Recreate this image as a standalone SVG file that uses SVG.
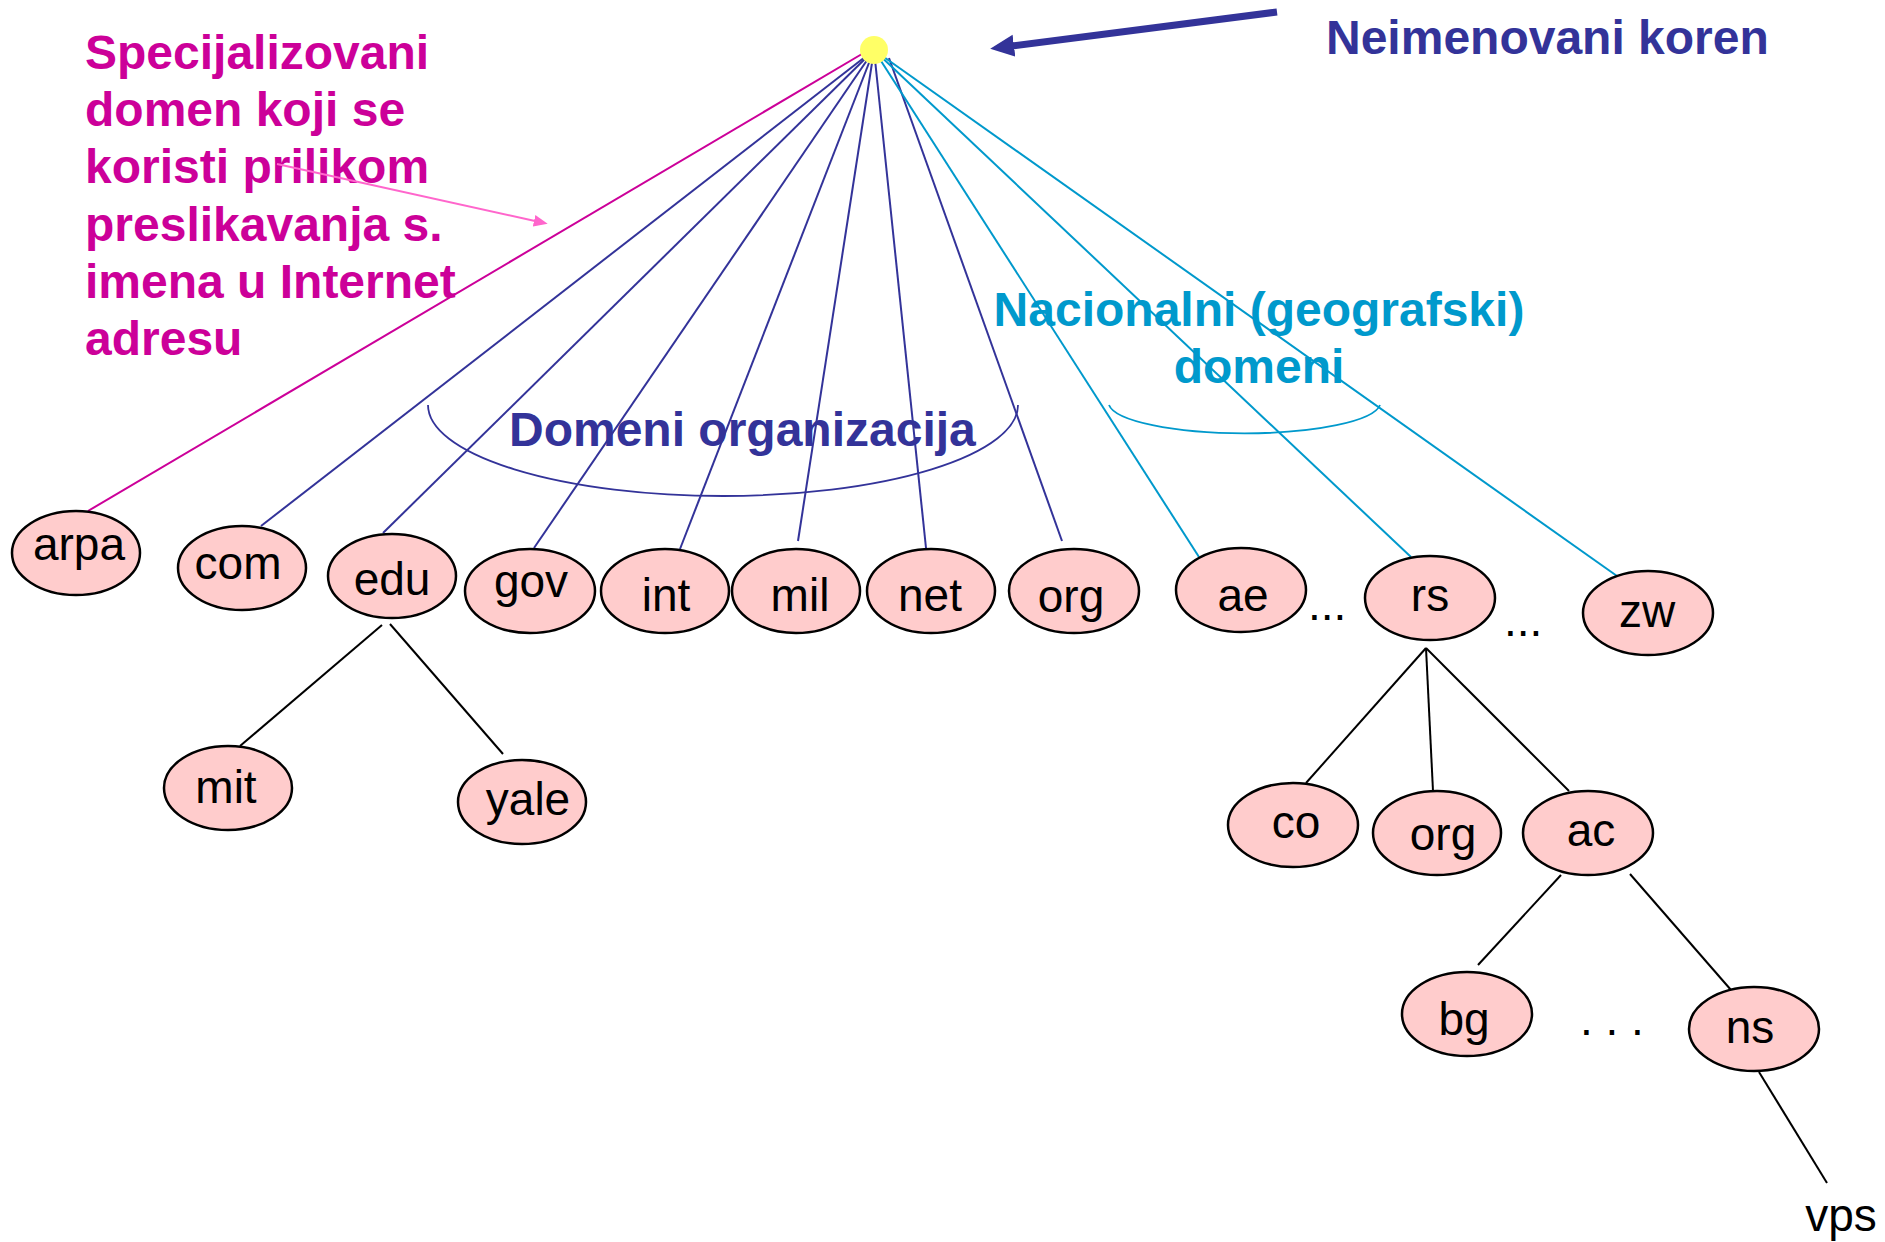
<svg xmlns="http://www.w3.org/2000/svg" width="1885" height="1242" viewBox="0 0 1885 1242">
  <style>
    .node ellipse { fill: #FFCCCC; stroke: #000; stroke-width: 2.5; }
    .node text { font-family: "Liberation Sans", Arial, sans-serif; font-size: 46px; fill: #000; text-anchor: middle; }
    .dots { font-family: "Liberation Sans", Arial, sans-serif; font-size: 46px; fill: #000; }
    .lbl { font-family: "Liberation Sans", Arial, sans-serif; font-size: 48px; font-weight: bold; }
    .navy { stroke: #333399; }
    .cyan { stroke: #0099CC; }
    .mag { stroke: #CC0099; }
    .blk { stroke: #000; }
    #connectors line { stroke-width: 2; fill: none; }
    .brace { fill: none; stroke-width: 1.8; }
  </style>
  <defs>
    <marker id="headNavy" markerUnits="userSpaceOnUse" viewBox="0 -12 26 24" markerWidth="26" markerHeight="24" refX="2" refY="0" orient="auto">
      <path d="M0,-11 L24,0 L0,11 z" fill="#333399"/>
    </marker>
    <marker id="headPink" markerUnits="userSpaceOnUse" viewBox="0 -7 16 14" markerWidth="16" markerHeight="14" refX="1" refY="0" orient="auto">
      <path d="M0,-6 L14,0 L0,6 z" fill="#FF66CC"/>
    </marker>
  </defs>

  <rect width="1885" height="1242" fill="#fff"/>

  <!-- annotation texts -->
  <g id="label-special" class="lbl" fill="#CC0099">
    <text x="85" y="69">Specijalizovani</text>
    <text x="85" y="126">domen koji se</text>
    <text x="85" y="183">koristi prilikom</text>
    <text x="85" y="241">preslikavanja s.</text>
    <text x="85" y="298">imena u Internet</text>
    <text x="85" y="355">adresu</text>
  </g>
  <g id="label-root" class="lbl" fill="#333399">
    <text x="1326" y="54">Neimenovani koren</text>
  </g>
  <g id="label-org" class="lbl" fill="#333399">
    <text x="509" y="446">Domeni organizacija</text>
  </g>
  <g id="label-nat" class="lbl" fill="#0099CC" text-anchor="middle">
    <text x="1259" y="326">Nacionalni (geografski)</text>
    <text x="1259" y="383">domeni</text>
  </g>

  <!-- braces grouping the top-level domains -->
  <path class="brace navy" d="M428,405 A295,91 0 0 0 1018,405"/>
  <path class="brace cyan" d="M1109,405 A136,31 0 0 0 1380,405"/>

  <!-- callout arrows -->
  <line x1="1277" y1="12" x2="1012" y2="46" stroke="#333399" stroke-width="7" marker-end="url(#headNavy)"/>
  <line x1="277" y1="164" x2="535" y2="221" stroke="#FF66CC" stroke-width="2" marker-end="url(#headPink)"/>

  <!-- tree edges -->
  <g id="connectors">
    <line class="mag" x1="867" y1="51" x2="88" y2="511"/>
    <line class="navy" x1="874" y1="50" x2="261" y2="526"/>
    <line class="navy" x1="874" y1="50" x2="383" y2="533"/>
    <line class="navy" x1="874" y1="50" x2="534" y2="548"/>
    <line class="navy" x1="874" y1="50" x2="680" y2="549"/>
    <line class="navy" x1="874" y1="50" x2="798" y2="541"/>
    <line class="navy" x1="874" y1="50" x2="926" y2="548"/>
    <line class="navy" x1="889" y1="58" x2="1062" y2="541"/>
    <line class="cyan" x1="874" y1="50" x2="1199" y2="557"/>
    <line class="cyan" x1="874" y1="50" x2="1411" y2="557"/>
    <line class="cyan" x1="874" y1="50" x2="1617" y2="576"/>
    <line class="blk" x1="382" y1="625" x2="240" y2="746"/>
    <line class="blk" x1="390" y1="624" x2="503" y2="754"/>
    <line class="blk" x1="1426" y1="648" x2="1306" y2="783"/>
    <line class="blk" x1="1426" y1="648" x2="1433" y2="791"/>
    <line class="blk" x1="1426" y1="648" x2="1569" y2="791"/>
    <line class="blk" x1="1561" y1="875" x2="1478" y2="965"/>
    <line class="blk" x1="1630" y1="874" x2="1731" y2="990"/>
    <line class="blk" x1="1759" y1="1072" x2="1827" y2="1183"/>
  </g>

  <!-- unnamed root -->
  <g id="root">
    <ellipse cx="874" cy="50" rx="14" ry="14" fill="#FFFF66"/>
  </g>

  <!-- top-level domains -->
  <g id="n-arpa" class="node"><ellipse cx="76" cy="553" rx="64" ry="42"/><text x="79" y="560">arpa</text></g>
  <g id="n-com" class="node"><ellipse cx="242" cy="568" rx="64" ry="42"/><text x="238" y="579">com</text></g>
  <g id="n-edu" class="node"><ellipse cx="392" cy="576" rx="64" ry="42"/><text x="392" y="595">edu</text></g>
  <g id="n-gov" class="node"><ellipse cx="530" cy="591" rx="65" ry="42"/><text x="531" y="597">gov</text></g>
  <g id="n-int" class="node"><ellipse cx="665" cy="591" rx="64" ry="42"/><text x="666" y="611">int</text></g>
  <g id="n-mil" class="node"><ellipse cx="796" cy="591" rx="64" ry="42"/><text x="800" y="611">mil</text></g>
  <g id="n-net" class="node"><ellipse cx="931" cy="591" rx="64" ry="42"/><text x="930" y="611">net</text></g>
  <g id="n-org" class="node"><ellipse cx="1074" cy="591" rx="65" ry="42"/><text x="1071" y="612">org</text></g>
  <g id="n-ae" class="node"><ellipse cx="1241" cy="590" rx="65" ry="42"/><text x="1243" y="611">ae</text></g>
  <g id="n-rs" class="node"><ellipse cx="1430" cy="598" rx="65" ry="42"/><text x="1430" y="611">rs</text></g>
  <g id="n-zw" class="node"><ellipse cx="1648" cy="613" rx="65" ry="42"/><text x="1647" y="627">zw</text></g>

  <!-- second and lower levels -->
  <g id="n-mit" class="node"><ellipse cx="228" cy="788" rx="64" ry="42"/><text x="226" y="803">mit</text></g>
  <g id="n-yale" class="node"><ellipse cx="522" cy="802" rx="64" ry="42"/><text x="528" y="815">yale</text></g>
  <g id="n-co" class="node"><ellipse cx="1293" cy="825" rx="65" ry="42"/><text x="1296" y="838">co</text></g>
  <g id="n-rs-org" class="node"><ellipse cx="1437" cy="833" rx="64" ry="42"/><text x="1443" y="850">org</text></g>
  <g id="n-ac" class="node"><ellipse cx="1588" cy="833" rx="65" ry="42"/><text x="1591" y="846">ac</text></g>
  <g id="n-bg" class="node"><ellipse cx="1467" cy="1014" rx="65" ry="42"/><text x="1464" y="1035">bg</text></g>
  <g id="n-ns" class="node"><ellipse cx="1754" cy="1029" rx="65" ry="42"/><text x="1750" y="1043">ns</text></g>
  <g id="n-vps" class="node"><text x="1841" y="1231">vps</text></g>

  <!-- ellipsis marks -->
  <text class="dots" x="1308" y="620">...</text>
  <text class="dots" x="1504" y="636">...</text>
  <text class="dots" x="1580" y="1035">. . .</text>
</svg>
